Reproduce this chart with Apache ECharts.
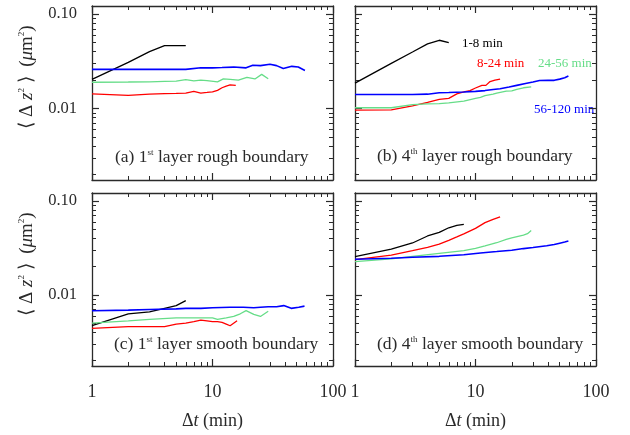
<!doctype html>
<html>
<head>
<meta charset="utf-8">
<title>mean square displacement</title>
<script src="https://cdn.jsdelivr.net/npm/echarts@6/dist/echarts.min.js"></script>
<style>
  html, body { margin: 0; padding: 0; background: #fff; }
  #main { width: 630px; height: 435px; }
</style>
</head>
<body>
<div id="main"></div>
<script>
// <dz^2> (um^2) against time lag dt (min)
var a_black = [[1,0.0204],[2,0.0308],[3,0.0401],[4,0.0464],[5,0.0464],[6,0.0464]];
var a_red   = [[1,0.0143],[2,0.0138],[3,0.0142],[4,0.0144],[5,0.0145],[6,0.0146],[7,0.0152],[8,0.0146],[9,0.0148],[10,0.0150],[11,0.0156],[12,0.0166],[13,0.0173],[14,0.0178],[15.6,0.0176]];
var a_green = [[1,0.0190],[2,0.0191],[3,0.0192],[4,0.0194],[5,0.0195],[6,0.0202],[7,0.0196],[8,0.0200],[9,0.0198],[11,0.0192],[12.3,0.0206],[14,0.0204],[16.4,0.0200],[19.3,0.0214],[22.5,0.0206],[25.6,0.0230],[29,0.0207]];
var a_blue  = [[1,0.0260],[2,0.0260],[3,0.0260],[4,0.0260],[5,0.0260],[6,0.0260],[8,0.0270],[10,0.0270],[12,0.0272],[15,0.0275],[19,0.0270],[21.6,0.0287],[25,0.0285],[30,0.0295],[34,0.0285],[38.7,0.0265],[45.5,0.0280],[51.5,0.0275],[58.5,0.0253]];

var b_black = [[1,0.0186],[2,0.0301],[3,0.0397],[4,0.0485],[5,0.0529],[6,0.0500]];
var b_red   = [[1,0.0096],[2,0.0097],[3,0.0107],[4,0.0116],[5,0.0125],[6,0.0128],[7,0.0143],[8,0.0150],[9,0.0155],[10,0.0165],[11.3,0.0176],[12.2,0.0176],[13.2,0.0193],[14.5,0.0200],[16,0.0205]];
var b_green = [[1,0.0102],[2,0.0102],[3,0.0110],[4,0.0112],[5,0.0113],[6,0.0115],[8,0.0120],[10,0.0128],[11,0.0131],[12,0.0137],[14,0.0142],[15,0.0146],[18,0.0153],[20,0.0154],[22,0.0160],[25,0.0166],[29,0.0170]];
var b_blue  = [[1,0.0141],[2,0.0141],[3,0.0141],[4,0.0142],[5,0.0147],[6,0.0148],[8,0.0150],[10,0.0152],[12,0.0155],[14,0.0159],[16,0.0162],[19,0.0169],[22,0.0176],[26,0.0184],[30,0.0191],[34,0.0198],[40,0.0199],[45,0.0199],[50,0.0205],[55,0.0212],[59,0.0221]];

var c_black = [[1,0.0047],[2,0.0063],[3,0.0066],[4,0.0072],[5,0.0077],[6,0.0087]];
var c_red   = [[1,0.0044],[2,0.0046],[3,0.0046],[4,0.0046],[5,0.0049],[6,0.0050],[7,0.0052],[8,0.0054],[9,0.0053],[10,0.0052],[11,0.0052],[12,0.0051],[13,0.0049],[14,0.0047],[16,0.0053]];
var c_green = [[1,0.0050],[2,0.0053],[3,0.0055],[5,0.0057],[8,0.0057],[10,0.0057],[11,0.0055],[13,0.0057],[15,0.0059],[17,0.0063],[19,0.0068],[22,0.0062],[25,0.0059],[29,0.0067]];
var c_blue  = [[1,0.0068],[2,0.0069],[3,0.0070],[5,0.0071],[6,0.0072],[8,0.0072],[10,0.0073],[14,0.0074],[18,0.0074],[22,0.0073],[25,0.0074],[29,0.0075],[34,0.0075],[39,0.0077],[45,0.0072],[52,0.0074],[58,0.0076]];

var d_black = [[1,0.0256],[2,0.0308],[3,0.0358],[4,0.0425],[5,0.0465],[6,0.0520],[7,0.0552],[8,0.0565]];
var d_red   = [[1,0.0238],[2,0.0266],[3,0.0296],[4,0.0322],[5,0.0348],[6,0.0382],[7,0.0415],[8,0.0447],[10,0.0512],[12,0.0590],[14,0.0640],[16,0.0681]];
var d_green = [[1,0.0226],[2,0.0242],[3,0.0258],[5,0.0277],[8,0.0296],[10,0.0313],[12,0.0333],[15,0.0360],[18,0.0390],[20,0.0405],[25,0.0435],[27,0.0450],[29,0.0485]];
var d_blue  = [[1,0.0240],[2,0.0246],[3,0.0252],[5,0.0258],[8,0.0268],[11,0.0280],[15,0.0290],[20,0.0300],[25,0.0312],[30,0.0320],[39,0.0335],[45,0.0345],[50,0.0356],[55,0.0366],[59,0.0375]];

var xMajor = [1, 10, 100];
var xMinor = [2,3,4,5,6,7,8,9,20,30,40,50,60,70,80,90];
var yMajor = [0.01, 0.1];
var yMinor = [0.002,0.003,0.004,0.005,0.006,0.007,0.008,0.009,0.02,0.03,0.04,0.05,0.06,0.07,0.08,0.09];

var seriesNames = ['1-8 min', '8-24 min', '24-56 min', '56-120 min'];
var colors = ['#000000', '#ff0000', '#66dd88', '#0000ff'];

var panels = [
  {lines: [a_black, a_red, a_green, a_blue], grid: {left: 92, top: 6, width: 241, height: 174}, xlab: false, ylab: true},
  {lines: [b_black, b_red, b_green, b_blue], grid: {left: 355, top: 6, width: 241, height: 174}, xlab: false, ylab: false},
  {lines: [c_black, c_red, c_green, c_blue], grid: {left: 92, top: 193, width: 241, height: 173}, xlab: true, ylab: true},
  {lines: [d_black, d_red, d_green, d_blue], grid: {left: 355, top: 193, width: 241, height: 173}, xlab: true, ylab: false}
];

var serif = 'Liberation Serif';
var ink = '#2a2a2a';

var grids = [], xAxes = [], yAxes = [], series = [];

panels.forEach(function (p, gi) {
  grids.push(p.grid);
  var xBase = xAxes.length, yBase = yAxes.length;
  ['bottom', 'top'].forEach(function (pos) {
    // major ticks + frame
    xAxes.push({
      type: 'log', gridIndex: gi, position: pos, min: 1, max: 100,
      axisLine: {show: true, lineStyle: {color: ink, width: 1.3}},
      axisTick: {show: true, inside: true, length: 7, customValues: xMajor, lineStyle: {color: ink, width: 1.2}},
      axisLabel: {show: pos === 'bottom' && p.xlab, customValues: xMajor, margin: 17,
        fontFamily: serif, fontSize: 18, color: ink,
        formatter: function (v) { return String(Math.round(v)); }},
      splitLine: {show: false},
      name: pos === 'bottom' && p.xlab ? 'Δ{i|t} (min)' : '',
      nameLocation: 'middle', nameGap: 46,
      nameTextStyle: {fontFamily: serif, fontSize: 18, color: ink,
        rich: {i: {fontFamily: serif, fontSize: 18, fontStyle: 'italic', color: ink}}}
    });
    // minor ticks
    xAxes.push({
      type: 'log', gridIndex: gi, position: pos, min: 1, max: 100,
      axisLine: {show: false},
      axisTick: {show: true, inside: true, length: 4, customValues: xMinor, lineStyle: {color: ink, width: 1}},
      axisLabel: {show: false},
      splitLine: {show: false}
    });
  });
  ['left', 'right'].forEach(function (pos) {
    yAxes.push({
      type: 'log', gridIndex: gi, position: pos, min: 0.00175, max: 0.122,
      axisLine: {show: true, lineStyle: {color: ink, width: 1.3}},
      axisTick: {show: true, inside: true, length: 7, customValues: yMajor, lineStyle: {color: ink, width: 1.2}},
      axisLabel: {show: pos === 'left' && p.ylab, customValues: yMajor, margin: 15,
        fontFamily: serif, fontSize: 16.5, color: ink,
        formatter: function (v) { return v.toFixed(2); }},
      splitLine: {show: false}
    });
    yAxes.push({
      type: 'log', gridIndex: gi, position: pos, min: 0.00175, max: 0.122,
      axisLine: {show: false},
      axisTick: {show: true, inside: true, length: 4, customValues: yMinor, lineStyle: {color: ink, width: 1}},
      axisLabel: {show: false},
      splitLine: {show: false}
    });
  });
  p.lines.forEach(function (d, k) {
    series.push({
      name: seriesNames[k], type: 'line', data: d,
      xAxisIndex: xBase, yAxisIndex: yBase,
      showSymbol: false, symbol: 'none',
      lineStyle: {color: colors[k], width: k === 3 ? 1.6 : 1.3},
      z: k === 3 ? 3 : 2
    });
  });
});

var supRich = {
  s: {fontFamily: serif, fontSize: 9, fill: ink, verticalAlign: 'top', padding: [0, 0, 6, 0]},
  i: {fontFamily: serif, fontSize: 19, fill: ink, fontStyle: 'italic'}
};

function panelText(x, y, txt) {
  return {type: 'text', x: x, y: y, style: {
    text: txt, fontFamily: serif, fontSize: 17.5, fill: ink, verticalAlign: 'middle', rich: supRich}};
}
function tag(x, y, txt, col) {
  return {type: 'text', x: x, y: y, style: {
    text: txt, fontFamily: serif, fontSize: 13, fill: col, verticalAlign: 'middle'}};
}
function yName(cx, cy) {
  return {type: 'text', x: cx, y: cy, rotation: Math.PI / 2, style: {
    text: '⟨ Δ {i|z}{s|2} ⟩  ({i|μ}m{s|2})', fontFamily: serif, fontSize: 19, fill: ink,
    align: 'center', verticalAlign: 'middle', rich: supRich}};
}

var graphics = [
  panelText(115, 157, '(a) 1{s|st} layer rough boundary'),
  panelText(377, 156, '(b) 4{s|th} layer rough boundary'),
  panelText(114, 344, '(c) 1{s|st} layer smooth boundary'),
  panelText(377, 344, '(d) 4{s|th} layer smooth boundary'),
  tag(462, 44, seriesNames[0], colors[0]),
  tag(477, 64, seriesNames[1], colors[1]),
  tag(538, 64, seriesNames[2], colors[2]),
  tag(534, 110, seriesNames[3], colors[3]),
  yName(27, 77),
  yName(27, 264)
];

var chart = echarts.init(document.getElementById('main'));
chart.setOption({
  animation: false,
  backgroundColor: '#fff',
  grid: grids,
  xAxis: xAxes,
  yAxis: yAxes,
  series: series,
  graphic: graphics
});
</script>
</body>
</html>
